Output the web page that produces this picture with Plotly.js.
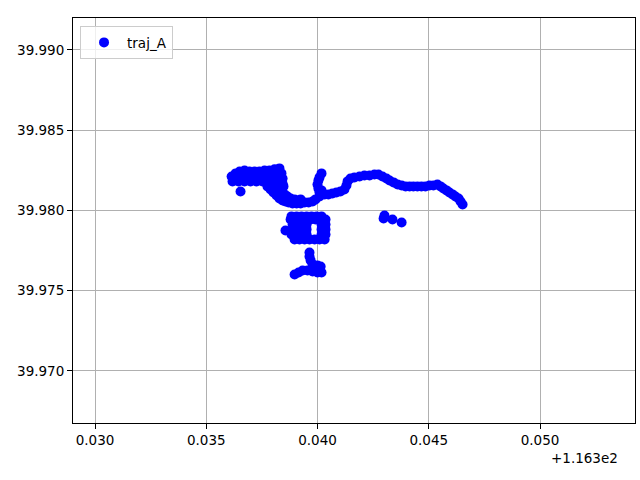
<!DOCTYPE html>
<html>
<head>
<meta charset="utf-8">
<script src="https://cdn.plot.ly/plotly-3.0.1.min.js"></script>
<style>html,body{margin:0;padding:0;background:#fff;}#chart{width:640px;height:480px;}</style>
</head>
<body>
<div id="chart"></div>
<script>
// traj_A longitude / latitude samples
var seriesName = "traj_A";
var lon = [
  // head, top row
  116.33623,116.33632,116.33650,116.33672,116.33694,116.33717,116.33739,116.33762,116.33784,116.33807,116.33829,
  // head, middle row
  116.33614,116.33641,116.33667,116.33694,116.33721,116.33748,116.33775,116.33802,116.33829,
  // head, lower row
  116.33618,116.33645,116.33672,116.33699,116.33726,116.33753,116.33780,116.33807,116.33834,
  // head, right edge
  116.33838,116.33843,116.33843,116.33847,
  // stray point
  116.33654,
  // diagonal
  116.33775,116.33789,116.33802,116.33816,116.33829,116.33843,116.33856,116.33870,
  116.33798,116.33811,116.33825,116.33838,116.33852,116.33865,116.33879,116.33897,
  // band
  116.33888,116.33906,116.33924,116.33942,116.33960,116.33978,116.33991,
  116.33924,
  // hook
  116.34009,116.34009,116.34004,116.34000,116.34004,116.34009,116.34018,
  // east branch
  116.34018,116.34032,116.34049,116.34067,116.34085,116.34103,116.34121,116.34130,116.34135,116.34148,
  116.34166,116.34189,116.34211,116.34234,116.34256,116.34274,116.34292,116.34310,116.34324,116.34342,
  116.34360,116.34378,116.34396,116.34414,116.34431,116.34449,116.34467,116.34485,116.34503,116.34521,
  116.34539,116.34553,116.34566,116.34580,116.34593,116.34607,116.34620,116.34634,116.34643,116.34652,
  // isolated points
  116.34297,116.34301,116.34337,116.34378,
  // loop
  116.33883,116.33906,116.33928,116.33951,116.33973,116.33996,116.34018,
  116.33879,116.33901,116.33924,116.33946,116.33969,116.33991,116.34014,116.34036,
  116.33888,116.33910,116.33933,116.33951,116.34018,116.34036,
  116.33888,116.33910,116.33933,116.33951,116.34018,116.34036,
  116.33883,116.33906,116.33928,116.33951,116.34018,116.34036,
  116.33897,116.33919,116.33942,116.33964,116.33987,116.34009,116.34032,
  116.33856,
  // southern tail
  116.33964,116.33964,116.33969,116.33978,116.34000,116.34014,116.34018,116.34000,116.33978,116.33955,116.33933,116.33915,116.33897
];
var lat = [
  39.98206,39.98231,39.98243,39.98249,39.98243,39.98243,39.98243,39.98249,39.98249,39.98256,39.98262,
  39.98212,39.98212,39.98212,39.98212,39.98212,39.98212,39.98212,39.98212,39.98212,
  39.98181,39.98181,39.98181,39.98181,39.98181,39.98181,39.98181,39.98181,39.98181,
  39.98231,39.98199,39.98168,39.98150,
  39.98118,
  39.98150,39.98131,39.98112,39.98094,39.98075,39.98062,39.98056,39.98050,
  39.98175,39.98156,39.98137,39.98118,39.98100,39.98087,39.98075,39.98069,
  39.98044,39.98044,39.98044,39.98050,39.98050,39.98056,39.98069,
  39.98069,
  39.98087,39.98112,39.98137,39.98162,39.98187,39.98206,39.98231,
  39.98125,39.98100,39.98100,39.98106,39.98112,39.98118,39.98131,39.98156,39.98181,39.98199,
  39.98206,39.98212,39.98218,39.98218,39.98224,39.98224,39.98212,39.98199,39.98187,39.98175,
  39.98162,39.98156,39.98150,39.98150,39.98150,39.98150,39.98150,39.98150,39.98156,39.98156,
  39.98162,39.98150,39.98137,39.98125,39.98112,39.98100,39.98087,39.98075,39.98056,39.98037,
  39.97950,39.97969,39.97944,39.97925,
  39.97963,39.97963,39.97963,39.97963,39.97963,39.97963,39.97963,
  39.97944,39.97944,39.97944,39.97944,39.97944,39.97944,39.97944,39.97944,
  39.97913,39.97913,39.97913,39.97913,39.97913,39.97913,
  39.97882,39.97882,39.97882,39.97882,39.97882,39.97882,
  39.97850,39.97850,39.97850,39.97850,39.97850,39.97850,
  39.97819,39.97819,39.97819,39.97819,39.97819,39.97819,39.97819,
  39.97875,
  39.97738,39.97713,39.97689,39.97664,39.97657,39.97651,39.97614,39.97614,39.97620,39.97626,39.97626,39.97614,39.97601
];
var xTickVals = [116.330, 116.335, 116.340, 116.345, 116.350];
var xTickText = ["0.030", "0.035", "0.040", "0.045", "0.050"];
var yTickVals = [39.970, 39.975, 39.980, 39.985, 39.990];
var yTickText = ["39.970", "39.975", "39.980", "39.985", "39.990"];
var offsetText = "+1.163e2";

var font = {family: "DejaVu Sans, sans-serif", size: 13.5, color: "#000"};
var trace = {
  x: lon, y: lat, type: "scatter", mode: "markers", name: seriesName,
  marker: {color: "#0000ff", size: 10, line: {width: 0}}
};
var axisCommon = {
  showgrid: true, gridcolor: "#b0b0b0", gridwidth: 1,
  showline: true, mirror: true, linecolor: "#000", linewidth: 1,
  ticks: "outside", ticklen: 5, tickwidth: 1, tickcolor: "#000",
  zeroline: false, tickfont: font, tickmode: "array"
};
var layout = {
  width: 640, height: 480,
  margin: {l: 73, r: 5, t: 18, b: 57},
  paper_bgcolor: "#fff", plot_bgcolor: "#fff",
  font: font,
  showlegend: true,
  legend: {x: 0.0125, y: 0.98, xanchor: "left", yanchor: "top",
    bgcolor: "rgba(255,255,255,0.8)", bordercolor: "#cccccc", borderwidth: 1,
    font: font, itemwidth: 36},
  xaxis: Object.assign({}, axisCommon, {range: [116.32901, 116.35427], tickvals: xTickVals, ticktext: xTickText}),
  yaxis: Object.assign({}, axisCommon, {range: [39.96676, 39.99199], tickvals: yTickVals, ticktext: yTickText}),
  annotations: [{text: offsetText, xref: "paper", yref: "paper", x: 0.9733, y: -0.086,
    xanchor: "right", yanchor: "middle", showarrow: false, font: font}]
};
Plotly.newPlot("chart", [trace], layout, {staticPlot: true, displayModeBar: false});
</script>
</body>
</html>
